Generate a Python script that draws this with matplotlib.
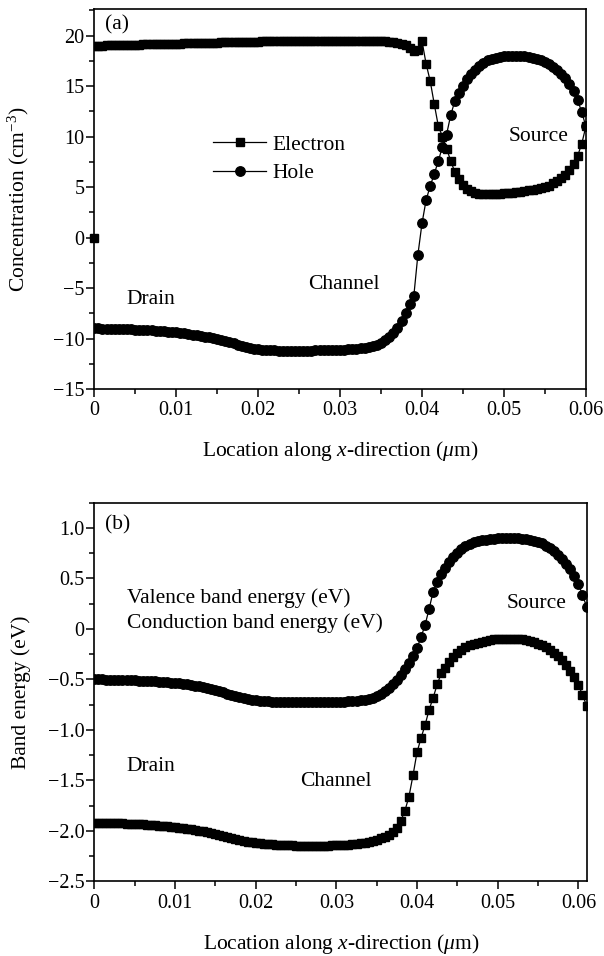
import matplotlib
matplotlib.use("Agg")
import matplotlib.pyplot as plt
from matplotlib.ticker import MultipleLocator, FuncFormatter

# ---------------- data ----------------
# panel (a): location (um) and concentration
x_a = [0.0000, 0.0005, 0.0010, 0.0015, 0.0020, 0.0025, 0.0030, 0.0035, 0.0040, 0.0045,
       0.0050, 0.0055, 0.0060, 0.0065, 0.0070, 0.0075, 0.0080, 0.0085, 0.0090, 0.0095,
       0.0100, 0.0105, 0.0110, 0.0115, 0.0120, 0.0125, 0.0130, 0.0135, 0.0140, 0.0145,
       0.0150, 0.0155, 0.0160, 0.0165, 0.0170, 0.0175, 0.0180, 0.0185, 0.0190, 0.0195,
       0.0200, 0.0205, 0.0210, 0.0215, 0.0220, 0.0225, 0.0230, 0.0235, 0.0240, 0.0245,
       0.0250, 0.0255, 0.0260, 0.0265, 0.0270, 0.0275, 0.0280, 0.0285, 0.0290, 0.0295,
       0.0300, 0.0305, 0.0310, 0.0315, 0.0320, 0.0325, 0.0330, 0.0335, 0.0340, 0.0345,
       0.0350, 0.0355, 0.0360, 0.0365, 0.0370, 0.0375, 0.0380, 0.0385, 0.0390, 0.0395,
       0.0400, 0.0405, 0.0410, 0.0415, 0.0420, 0.0425, 0.0430, 0.0435, 0.0440, 0.0445,
       0.0450, 0.0455, 0.0460, 0.0465, 0.0470, 0.0475, 0.0480, 0.0485, 0.0490, 0.0495,
       0.0500, 0.0505, 0.0510, 0.0515, 0.0520, 0.0525, 0.0530, 0.0535, 0.0540, 0.0545,
       0.0550, 0.0555, 0.0560, 0.0565, 0.0570, 0.0575, 0.0580, 0.0585, 0.0590, 0.0595,
       0.0600]

electron = [19.00, 19.00, 19.01, 19.02, 19.03, 19.04, 19.05, 19.06, 19.07, 19.08,
            19.10, 19.11, 19.12, 19.13, 19.14, 19.15, 19.16, 19.17, 19.18, 19.19,
            19.20, 19.21, 19.22, 19.23, 19.24, 19.25, 19.26, 19.27, 19.28, 19.29,
            19.30, 19.31, 19.32, 19.33, 19.34, 19.35, 19.36, 19.37, 19.38, 19.39,
            19.40, 19.41, 19.42, 19.43, 19.44, 19.44, 19.45, 19.45, 19.46, 19.46,
            19.47, 19.47, 19.48, 19.48, 19.48, 19.49, 19.49, 19.49, 19.50, 19.50,
            19.50, 19.50, 19.50, 19.50, 19.50, 19.49, 19.49, 19.48, 19.47, 19.46,
            19.44, 19.41, 19.37, 19.32, 19.25, 19.16, 19.02, 18.80, 18.45, 18.60,
            19.45, 17.20, 15.50, 13.20, 11.00, 10.00, 8.80, 7.60, 6.50, 5.80,
            5.20, 4.80, 4.60, 4.45, 4.35, 4.30, 4.30, 4.30, 4.30, 4.35,
            4.40, 4.42, 4.45, 4.50, 4.55, 4.60, 4.66, 4.72, 4.80, 4.90,
            5.00, 5.15, 5.35, 5.55, 5.85, 6.20, 6.70, 7.30, 8.10, 9.30,
            11.00]
electron_edge_x = [0.0]
electron_edge_y = [0.0]

hole = [-9.00, -9.00, -9.01, -9.02, -9.03, -9.04, -9.05, -9.06, -9.08, -9.10,
        -9.12, -9.14, -9.16, -9.18, -9.20, -9.23, -9.26, -9.29, -9.32, -9.36,
        -9.40, -9.45, -9.50, -9.55, -9.61, -9.67, -9.74, -9.81, -9.89, -9.97,
        -10.06, -10.15, -10.25, -10.36, -10.48, -10.60, -10.72, -10.84, -10.94, -11.02,
        -11.08, -11.12, -11.15, -11.17, -11.18, -11.19, -11.20, -11.20, -11.20, -11.20,
        -11.20, -11.20, -11.19, -11.19, -11.18, -11.18, -11.17, -11.16, -11.15, -11.14,
        -11.12, -11.10, -11.08, -11.05, -11.02, -10.98, -10.93, -10.86, -10.75, -10.60,
        -10.40, -10.15, -9.85, -9.45, -8.95, -8.25, -7.45, -6.55, -5.80, -1.70,
        1.40, 3.70, 5.10, 6.30, 7.60, 9.00, 10.20, 12.10, 13.50, 14.30,
        15.00, 15.70, 16.20, 16.60, 17.00, 17.30, 17.55, 17.70, 17.82, 17.90,
        17.95, 17.98, 18.00, 18.00, 17.98, 17.95, 17.90, 17.82, 17.72, 17.58,
        17.40, 17.18, 16.92, 16.60, 16.22, 15.75, 15.20, 14.50, 13.60, 12.40,
        11.00]

# panel (b): location (um) and band energies (eV)
x_b = [0.0000, 0.0005, 0.0010, 0.0015, 0.0020, 0.0025, 0.0030, 0.0035, 0.0040, 0.0045,
       0.0050, 0.0055, 0.0060, 0.0065, 0.0070, 0.0075, 0.0080, 0.0085, 0.0090, 0.0095,
       0.0100, 0.0105, 0.0110, 0.0115, 0.0120, 0.0125, 0.0130, 0.0135, 0.0140, 0.0145,
       0.0150, 0.0155, 0.0160, 0.0165, 0.0170, 0.0175, 0.0180, 0.0185, 0.0190, 0.0195,
       0.0200, 0.0205, 0.0210, 0.0215, 0.0220, 0.0225, 0.0230, 0.0235, 0.0240, 0.0245,
       0.0250, 0.0255, 0.0260, 0.0265, 0.0270, 0.0275, 0.0280, 0.0285, 0.0290, 0.0295,
       0.0300, 0.0305, 0.0310, 0.0315, 0.0320, 0.0325, 0.0330, 0.0335, 0.0340, 0.0345,
       0.0350, 0.0355, 0.0360, 0.0365, 0.0370, 0.0375, 0.0380, 0.0385, 0.0390, 0.0395,
       0.0400, 0.0405, 0.0410, 0.0415, 0.0420, 0.0425, 0.0430, 0.0435, 0.0440, 0.0445,
       0.0450, 0.0455, 0.0460, 0.0465, 0.0470, 0.0475, 0.0480, 0.0485, 0.0490, 0.0495,
       0.0500, 0.0505, 0.0510, 0.0515, 0.0520, 0.0525, 0.0530, 0.0535, 0.0540, 0.0545,
       0.0550, 0.0555, 0.0560, 0.0565, 0.0570, 0.0575, 0.0580, 0.0585, 0.0590, 0.0595,
       0.0600, 0.0605, 0.0610]

valence = [-0.500, -0.500, -0.501, -0.502, -0.503, -0.504, -0.505, -0.506, -0.507, -0.508,
           -0.510, -0.512, -0.514, -0.516, -0.518, -0.520, -0.523, -0.526, -0.529, -0.532,
           -0.536, -0.540, -0.545, -0.550, -0.556, -0.562, -0.570, -0.578, -0.587, -0.596,
           -0.606, -0.617, -0.628, -0.640, -0.652, -0.664, -0.675, -0.685, -0.694, -0.701,
           -0.707, -0.712, -0.716, -0.719, -0.721, -0.723, -0.724, -0.725, -0.726, -0.726,
           -0.727, -0.727, -0.727, -0.727, -0.727, -0.727, -0.727, -0.726, -0.726, -0.725,
           -0.724, -0.723, -0.721, -0.719, -0.716, -0.712, -0.707, -0.700, -0.692, -0.680,
           -0.665, -0.645, -0.620, -0.590, -0.550, -0.505, -0.455, -0.400, -0.340, -0.270,
           -0.190, -0.080, 0.040, 0.200, 0.370, 0.460, 0.540, 0.600, 0.660, 0.710,
           0.750, 0.790, 0.820, 0.840, 0.860, 0.870, 0.880, 0.885, 0.890, 0.893,
           0.896, 0.898, 0.899, 0.899, 0.898, 0.896, 0.893, 0.888, 0.882, 0.874,
           0.864, 0.850, 0.825, 0.800, 0.770, 0.735, 0.695, 0.645, 0.590, 0.525,
           0.440, 0.340, 0.220]

conduction = [-1.920, -1.920, -1.921, -1.922, -1.923, -1.924, -1.925, -1.927, -1.929, -1.931,
              -1.933, -1.935, -1.937, -1.940, -1.943, -1.946, -1.949, -1.952, -1.956, -1.960,
              -1.964, -1.968, -1.973, -1.978, -1.984, -1.990, -1.997, -2.004, -2.012, -2.020,
              -2.029, -2.039, -2.049, -2.059, -2.069, -2.079, -2.089, -2.098, -2.106, -2.113,
              -2.119, -2.124, -2.128, -2.132, -2.135, -2.138, -2.140, -2.142, -2.144, -2.145,
              -2.146, -2.147, -2.148, -2.148, -2.148, -2.148, -2.148, -2.147, -2.146, -2.145,
              -2.144, -2.142, -2.140, -2.137, -2.134, -2.130, -2.125, -2.119, -2.111, -2.101,
              -2.089, -2.075, -2.058, -2.038, -2.014, -1.975, -1.900, -1.800, -1.660, -1.450,
              -1.220, -1.080, -0.950, -0.800, -0.680, -0.550, -0.440, -0.390, -0.330, -0.280,
              -0.235, -0.205, -0.180, -0.160, -0.145, -0.135, -0.125, -0.117, -0.110, -0.105,
              -0.100, -0.098, -0.097, -0.097, -0.098, -0.100, -0.105, -0.110, -0.120, -0.130,
              -0.145, -0.160, -0.180, -0.205, -0.235, -0.270, -0.310, -0.360, -0.420, -0.480,
              -0.560, -0.650, -0.760]

xticks = [0, 0.01, 0.02, 0.03, 0.04, 0.05, 0.06]
yticks_a = [-15, -10, -5, 0, 5, 10, 15, 20]
yticks_b = [-2.5, -2.0, -1.5, -1.0, -0.5, 0, 0.5, 1.0]

# ---------------- style ----------------
plt.rcParams['font.family'] = ['Liberation Serif', 'DejaVu Serif']
plt.rcParams['mathtext.fontset'] = 'custom'
plt.rcParams['mathtext.rm'] = 'Liberation Serif'
plt.rcParams['mathtext.it'] = 'Liberation Serif:italic'
FS_TICK = 14.5
FS = 15.5
MS_SQ = 6.0
MS_CI = 6.8

fig = plt.figure(figsize=(6.04, 9.56), dpi=100)
ax1 = fig.add_axes([0.156, 0.5931, 0.814, 0.3972])
ax2 = fig.add_axes([0.156, 0.0781, 0.8164, 0.3961])

line_kw = dict(color='black', linewidth=0.9, markerfacecolor='black', markeredgecolor='black')


def xfmt(v, pos):
    if abs(v) < 1e-12:
        return '0'
    return '%g' % v


def yfmt_b(v, pos):
    if abs(v) < 1e-12:
        return '0'
    return ('%.1f' % v).replace('-', '\u2212')


def style_axes(ax):
    for s in ax.spines.values():
        s.set_linewidth(1.2)
    ax.tick_params(which='major', direction='out', length=6.0, width=1.1,
                   labelsize=FS_TICK, top=False, right=False)
    ax.tick_params(which='minor', direction='out', length=3.6, width=1.1,
                   top=False, right=False)
    ax.tick_params(axis='y', which='major', pad=1.0)
    ax.tick_params(axis='x', which='major', pad=3.0)
    ax.xaxis.set_major_formatter(FuncFormatter(xfmt))
    ax.xaxis.set_minor_locator(MultipleLocator(0.005))


# ---------------- panel (a) ----------------
ax1.plot(x_a, electron, marker='s', markersize=MS_SQ, label='Electron', **line_kw)
ax1.plot(electron_edge_x, electron_edge_y, marker='s', markersize=MS_SQ, linestyle='none',
         color='black', clip_on=False)
ax1.plot(x_a, hole, marker='o', markersize=MS_CI, label='Hole', **line_kw)
ax1.set_xlim(0, 0.06)
ax1.set_ylim(-15, 22.6)
ax1.set_xticks(xticks)
ax1.set_yticks(yticks_a)
ax1.yaxis.set_minor_locator(MultipleLocator(2.5))
style_axes(ax1)
ax1.set_xlabel('Location along $x$-direction ($\\mu$m)', fontsize=FS)
ax1.set_ylabel('Concentration (cm$^{-3}$)', fontsize=FS)
ax1.xaxis.set_label_coords(0.5, -0.132)
ax1.yaxis.set_label_coords(-0.128, 0.5)

ax1.text(0.022, 0.959, '(a)', transform=ax1.transAxes, fontsize=FS, va='center', ha='left')
ax1.text(0.066, 0.237, 'Drain', transform=ax1.transAxes, fontsize=FS, va='center', ha='left')
ax1.text(0.435, 0.274, 'Channel', transform=ax1.transAxes, fontsize=FS, va='center', ha='left')
ax1.text(0.842, 0.664, 'Source', transform=ax1.transAxes, fontsize=FS, va='center', ha='left')
ax1.legend(loc='upper left', bbox_to_anchor=(0.242, 0.669), frameon=False, fontsize=FS,
           handlelength=2.47, handletextpad=0.28, labelspacing=0.37, borderpad=0,
           borderaxespad=0, numpoints=1)

# ---------------- panel (b) ----------------
ax2.plot(x_b, valence, marker='o', markersize=MS_CI, **line_kw)
ax2.plot(x_b, conduction, marker='s', markersize=MS_SQ, **line_kw)
ax2.set_xlim(0, 0.0611)
ax2.set_ylim(-2.5, 1.25)
ax2.set_xticks(xticks)
ax2.set_yticks(yticks_b)
ax2.yaxis.set_major_formatter(FuncFormatter(yfmt_b))
ax2.yaxis.set_minor_locator(MultipleLocator(0.25))
style_axes(ax2)
ax2.set_xlabel('Location along $x$-direction ($\\mu$m)', fontsize=FS)
ax2.set_ylabel('Band energy (eV)', fontsize=FS)
ax2.xaxis.set_label_coords(0.5, -0.133)
ax2.yaxis.set_label_coords(-0.128, 0.5)

ax2.text(0.022, 0.941, '(b)', transform=ax2.transAxes, fontsize=FS, va='center', ha='left')
ax2.text(0.066, 0.748, 'Valence band energy (eV)', transform=ax2.transAxes, fontsize=FS,
         va='center', ha='left')
ax2.text(0.066, 0.682, 'Conduction band energy (eV)', transform=ax2.transAxes, fontsize=FS,
         va='center', ha='left')
ax2.text(0.836, 0.735, 'Source', transform=ax2.transAxes, fontsize=FS, va='center', ha='left')
ax2.text(0.066, 0.303, 'Drain', transform=ax2.transAxes, fontsize=FS, va='center', ha='left')
ax2.text(0.417, 0.264, 'Channel', transform=ax2.transAxes, fontsize=FS, va='center', ha='left')

fig.savefig('out.png', dpi=100)
